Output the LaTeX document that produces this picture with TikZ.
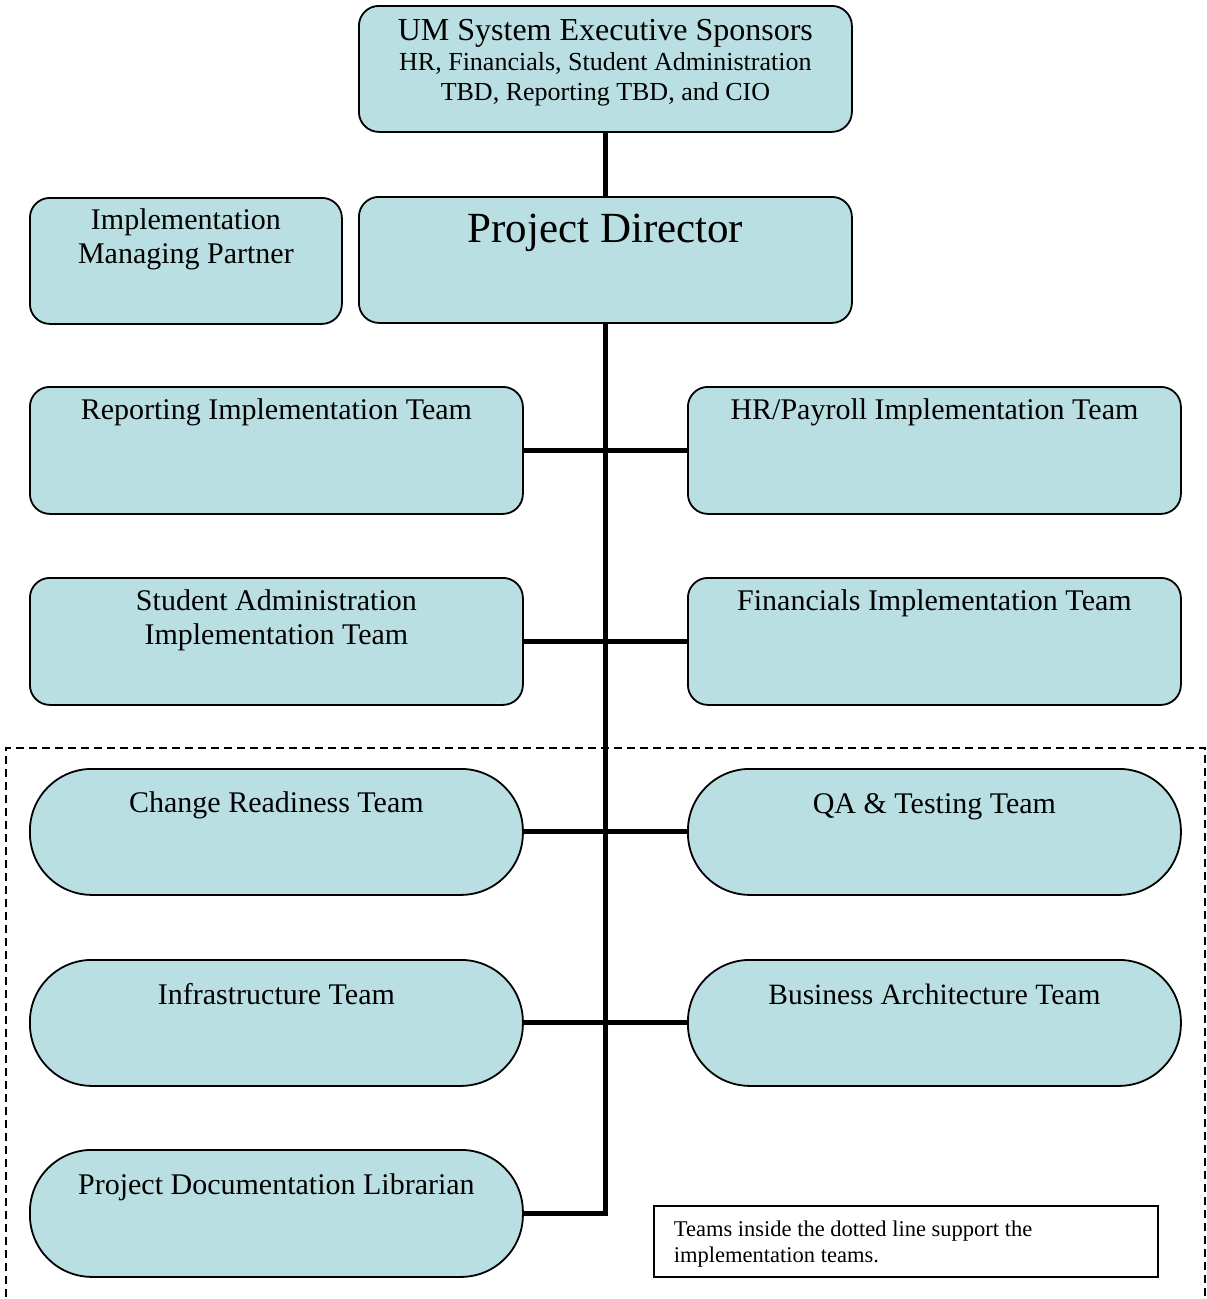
\documentclass[tikz,border=0pt]{standalone}
\usepackage{fontspec}
\setmainfont{Liberation Serif}
\definecolor{boxfill}{RGB}{186,223,227}
% box content: width, height, first baseline offset, text (top aligned, centred)
\newcommand\boxtext[4]{\parbox[c][#2][t]{#1}{\centering\rule{0pt}{#3}#4}}
\tikzset{
  orgbox/.style={draw=black, line width=1.8pt, fill=boxfill, rounded corners=20pt,
    inner sep=0pt, anchor=north west, font=\fontsize{30}{34}\selectfont},
  pillbox/.style={orgbox, rounded corners=62pt},
  notebox/.style={draw=black, line width=1.8pt, fill=white, inner sep=0pt,
    anchor=north west, font=\fontsize{22.5}{26}\selectfont},
  link/.style={line width=5pt},
  supportframe/.style={line width=1.5pt, dash pattern=on 8pt off 5pt},
}
\begin{document}
\begin{tikzpicture}[x=1pt,y=-1pt]
\useasboundingbox (0,0) rectangle (1207,1299);

% support teams frame (runs off the bottom of the page)
\draw[supportframe] (6,1310) -- (6,748) -- (1205,748) -- (1205,1310);

% top level
\node[orgbox] (exec) at (358,5) {\boxtext{493pt}{126pt}{35pt}{%
  \fontsize{26}{30}\selectfont{\fontsize{32}{30}\selectfont UM System Executive Sponsors}\\
  HR, Financials, Student Administration\\ TBD, Reporting TBD, and CIO}};
\node[orgbox] (imp) at (29,197) {\boxtext{312pt}{126pt}{32pt}{Implementation\\ Managing Partner}};
\node[orgbox] (pd) at (358,196) {\boxtext{493pt}{126pt}{46pt}{\fontsize{43}{48}\selectfont Project Director}};

% implementation teams
\node[orgbox] (rep) at (29,386) {\boxtext{493pt}{127pt}{33pt}{Reporting Implementation Team}};
\node[orgbox] (hr) at (687,386) {\boxtext{493pt}{127pt}{33pt}{HR/Payroll Implementation Team}};
\node[orgbox] (sa) at (29,577) {\boxtext{493pt}{127pt}{33pt}{Student Administration\\ Implementation Team}};
\node[orgbox] (fin) at (687,577) {\boxtext{493pt}{127pt}{33pt}{Financials Implementation Team}};

% support teams
\node[pillbox] (cr) at (29,768) {\boxtext{493pt}{126pt}{44pt}{Change Readiness Team}};
\node[pillbox] (qa) at (687,768) {\boxtext{493pt}{126pt}{45pt}{QA \& Testing Team}};
\node[pillbox] (inf) at (29,959) {\boxtext{493pt}{126pt}{45pt}{Infrastructure Team}};
\node[pillbox] (ba) at (687,959) {\boxtext{493pt}{126pt}{45pt}{\fontsize{29.5}{34}\selectfont Business Architecture Team}};
\node[pillbox] (lib) at (29,1149) {\boxtext{493pt}{127pt}{45pt}{Project Documentation Librarian}};

% note
\node[notebox] (note) at (653,1205) {\parbox[c][71pt][t]{504pt}{\raggedright\leftskip=20pt
  \rule{0pt}{31pt}Teams inside the dotted line support the\\ implementation teams.}};

% reporting lines
\draw[link] (exec.south) -- (pd.north);
\draw[link] (rep.east) -- (hr.west);
\draw[link] (sa.east) -- (fin.west);
\draw[link] (cr.east) -- (qa.west);
\draw[link] (inf.east) -- (ba.west);
\draw[link] (pd.south) |- (lib.east);
\end{tikzpicture}
\end{document}
